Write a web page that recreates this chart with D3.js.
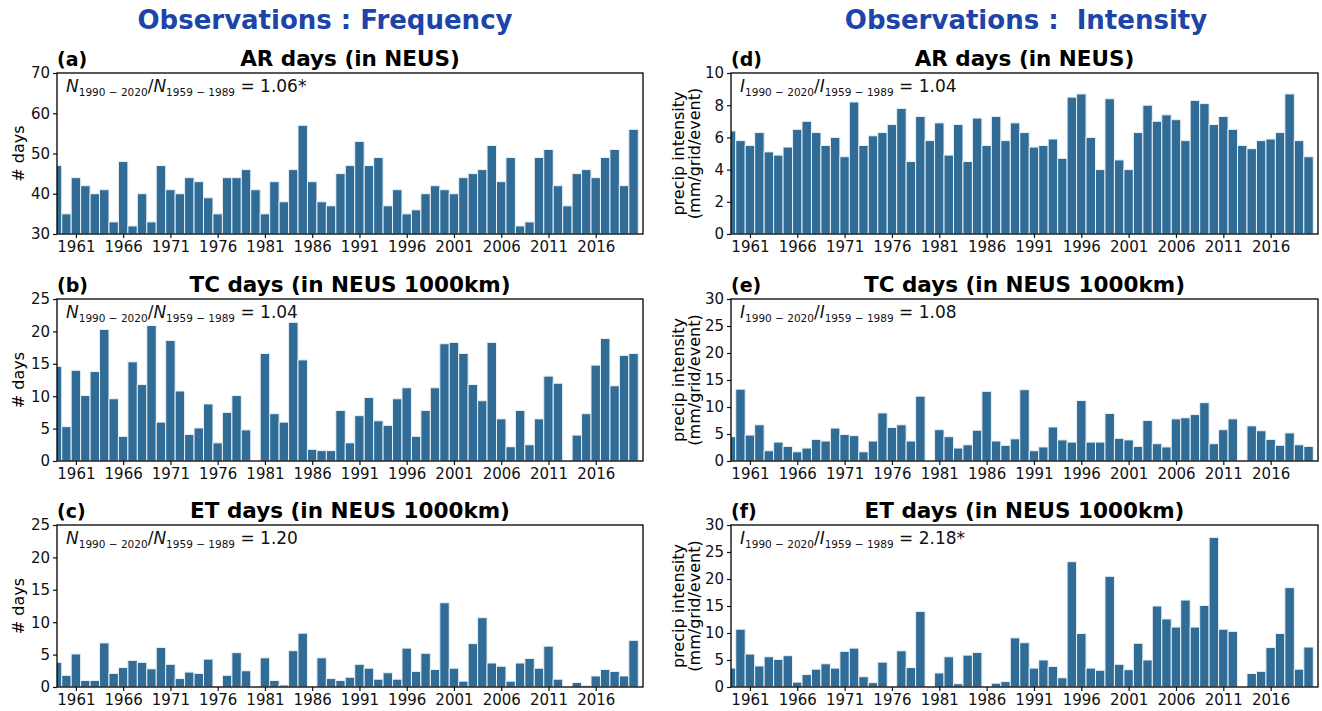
<!DOCTYPE html>
<html>
<head>
<meta charset="utf-8">
<style>
  body { margin: 0; background: #fff; font-family: "DejaVu Sans", sans-serif; }
  .tick text { font-family: "DejaVu Sans", sans-serif; font-size: 15px; fill: #111; }
  .tick line { stroke: #111; stroke-width: 1.2; }
</style>
<script src="https://cdn.jsdelivr.net/npm/d3@7"></script>
</head>
<body>
<script>
// years 1959..2020, one bar per year
var years = d3.range(1959, 2021);
var tickYears = [1961, 1966, 1971, 1976, 1981, 1986, 1991, 1996, 2001, 2006, 2011, 2016];

// (a) AR days, frequency
var arFreq = [47, 35, 44, 42, 40, 41, 33, 48, 32, 40, 33, 47, 41, 40, 44, 43, 39, 35, 44, 44,
  46, 41, 35, 43, 38, 46, 57, 43, 38, 37, 45, 47, 53, 47, 49, 37, 41, 35, 36, 40,
  42, 41, 40, 44, 45, 46, 52, 43, 49, 32, 33, 49, 51, 42, 37, 45, 46, 44, 49, 51, 42, 56];
// (b) TC days, frequency
var tcFreq = [14.6, 5.3, 14.0, 10.1, 13.8, 20.3, 9.6, 3.8, 15.3, 11.8, 20.9, 6.0, 18.6, 10.8, 4.1, 5.1,
  8.8, 2.8, 7.5, 10.1, 4.8, 0, 16.6, 7.3, 6.0, 21.4, 15.6, 1.8, 1.6, 1.6, 7.8, 2.8,
  7.0, 9.8, 6.2, 5.5, 9.6, 11.3, 3.8, 7.8, 11.3, 18.1, 18.3, 16.6, 11.8, 9.3, 18.3, 6.5,
  2.2, 7.8, 2.5, 6.5, 13.1, 12.0, 0, 4.0, 7.3, 14.8, 18.9, 11.6, 16.3, 16.6];
// (c) ET days, frequency
var etFreq = [3.8, 1.8, 5.1, 1.0, 1.0, 6.8, 2.1, 3.0, 4.1, 3.8, 2.8, 6.1, 3.5, 1.3, 2.3, 2.1,
  4.3, 0, 1.8, 5.3, 2.5, 0, 4.5, 1.0, 0.3, 5.6, 8.3, 0, 4.5, 1.3, 1.0, 1.5,
  3.5, 2.9, 1.2, 2.2, 1.2, 6.0, 2.4, 5.2, 2.7, 13.0, 2.9, 0.9, 6.7, 10.7, 3.7, 3.2,
  0.9, 3.7, 4.4, 2.9, 6.3, 1.2, 0, 0.7, 0.2, 1.7, 2.7, 2.4, 1.7, 7.2];
// (d) AR days, intensity
var arInt = [6.4, 5.8, 5.5, 6.3, 5.1, 4.9, 5.4, 6.5, 7.0, 6.3, 5.5, 6.0, 4.8, 8.2, 5.5, 6.1,
  6.3, 6.8, 7.8, 4.5, 7.3, 5.8, 6.9, 4.9, 6.8, 4.5, 7.2, 5.5, 7.3, 5.8, 6.9, 6.3,
  5.4, 5.5, 5.9, 4.7, 8.5, 8.7, 6.0, 4.0, 8.4, 4.6, 4.0, 6.3, 8.0, 7.0, 7.4, 7.1,
  5.8, 8.3, 8.1, 6.8, 7.3, 6.5, 5.5, 5.3, 5.8, 5.9, 6.3, 8.7, 5.8, 4.8];
// (e) TC days, intensity
var tcInt = [4.5, 13.3, 4.8, 6.7, 1.9, 3.5, 2.7, 1.7, 2.4, 4.0, 3.7, 6.1, 4.9, 4.7, 1.7, 3.7,
  8.9, 6.2, 6.7, 3.7, 12.0, 0, 5.8, 4.5, 2.4, 3.0, 5.7, 12.9, 3.7, 2.9, 4.1, 13.2,
  1.9, 2.6, 6.3, 3.9, 3.5, 11.2, 3.5, 3.5, 8.8, 4.2, 3.9, 2.7, 7.5, 3.2, 2.6, 7.8,
  8.0, 8.6, 10.8, 3.2, 5.8, 7.8, 0, 6.5, 5.6, 4.0, 2.9, 5.2, 3.0, 2.7];
// (f) ET days, intensity
var etInt = [3.5, 10.7, 6.1, 3.9, 5.6, 5.1, 5.8, 0.9, 2.3, 3.3, 4.3, 3.5, 6.6, 7.2, 1.9, 0.8,
  4.6, 0, 6.7, 3.6, 14.0, 0, 2.6, 5.6, 0.6, 5.9, 6.4, 0, 0.7, 1.0, 9.1, 8.2,
  3.5, 5.0, 3.8, 1.7, 23.2, 9.9, 3.5, 3.1, 20.5, 4.2, 3.2, 8.1, 5.0, 15.0, 12.6, 11.1,
  16.1, 11.1, 15.1, 27.7, 10.7, 10.3, 0, 2.5, 2.9, 7.3, 9.9, 18.4, 3.3, 7.4];

var headers = ["Observations : Frequency", "Observations :  Intensity"];
var headerX = [325, 1026];

var panels = [
  {lab: "(a)", title: "AR days (in NEUS)", vals: arFreq, dom: [30, 70], ticks: [30, 40, 50, 60, 70], sym: "N", ratio: "1.06*", col: 0, row: 0},
  {lab: "(b)", title: "TC days (in NEUS 1000km)", vals: tcFreq, dom: [0, 25], ticks: [0, 5, 10, 15, 20, 25], sym: "N", ratio: "1.04", col: 0, row: 1},
  {lab: "(c)", title: "ET days (in NEUS 1000km)", vals: etFreq, dom: [0, 25], ticks: [0, 5, 10, 15, 20, 25], sym: "N", ratio: "1.20", col: 0, row: 2},
  {lab: "(d)", title: "AR days (in NEUS)", vals: arInt, dom: [0, 10], ticks: [0, 2, 4, 6, 8, 10], sym: "I", ratio: "1.04", col: 1, row: 0},
  {lab: "(e)", title: "TC days (in NEUS 1000km)", vals: tcInt, dom: [0, 30], ticks: [0, 5, 10, 15, 20, 25, 30], sym: "I", ratio: "1.08", col: 1, row: 1},
  {lab: "(f)", title: "ET days (in NEUS 1000km)", vals: etInt, dom: [0, 30], ticks: [0, 5, 10, 15, 20, 25, 30], sym: "I", ratio: "2.18*", col: 1, row: 2}
];

var barColor = "#306c96";
var colX = [[57, 643], [731, 1318]];
var rowY = [[73, 234], [299, 461], [525, 687]];

var svg = d3.select("body").append("svg")
  .attr("width", 1322)
  .attr("height", 711);

// column headers
svg.selectAll(".hdr").data(headers).enter()
  .append("text")
  .attr("x", (d, i) => headerX[i])
  .attr("y", 29)
  .attr("text-anchor", "middle")
  .style("font-size", "26px")
  .style("font-weight", "bold")
  .style("white-space", "pre")
  .style("fill", "#1d44a8")
  .text(d => d);

panels.forEach(function(p, k) {
  var x0 = colX[p.col][0], x1 = colX[p.col][1];
  var y0 = rowY[p.row][0], y1 = rowY[p.row][1];

  var x = d3.scaleLinear().domain([1959, 2021]).range([x0, x1]);
  var y = d3.scaleLinear().domain(p.dom).range([y1, y0]);

  var clipId = "clip" + k;
  svg.append("clipPath").attr("id", clipId)
    .append("rect")
    .attr("x", x0).attr("y", y0)
    .attr("width", x1 - x0).attr("height", y1 - y0);

  var bars = years.map((yr, i) => ({year: yr, v: p.vals[i]}));

  svg.append("g").attr("clip-path", "url(#" + clipId + ")")
    .selectAll("rect").data(bars.filter(d => d.v > p.dom[0])).enter()
    .append("rect")
    .attr("x", d => x(d.year - 0.5))
    .attr("width", d => x(d.year + 0.5) - x(d.year - 0.5))
    .attr("y", d => y(d.v))
    .attr("height", d => y(p.dom[0]) - y(d.v))
    .attr("fill", barColor)
    .attr("stroke", "#e8f0f6")
    .attr("stroke-width", 1);

  // axes
  var yAxis = d3.axisLeft(y).tickValues(p.ticks).tickSize(4).tickPadding(3);
  svg.append("g").attr("transform", "translate(" + x0 + ",0)").call(yAxis)
    .call(g => g.select(".domain").remove());

  var xAxis = d3.axisBottom(x).tickValues(tickYears).tickFormat(d3.format("d")).tickSize(4).tickPadding(3);
  svg.append("g").attr("transform", "translate(0," + y1 + ")").call(xAxis)
    .call(g => g.select(".domain").remove());

  // frame
  svg.append("rect")
    .attr("x", x0).attr("y", y0)
    .attr("width", x1 - x0).attr("height", y1 - y0)
    .attr("fill", "none")
    .attr("stroke", "#000")
    .attr("stroke-width", 1.3);

  // titles
  svg.append("text")
    .attr("x", x0).attr("y", y0 - 7)
    .style("font-size", "19px").style("font-weight", "bold")
    .text(p.lab);
  svg.append("text")
    .attr("x", (x0 + x1) / 2).attr("y", y0 - 7)
    .attr("text-anchor", "middle")
    .style("font-size", "21.5px").style("font-weight", "bold")
    .text(p.title);

  // ratio annotation
  var t = svg.append("text")
    .attr("x", x0 + 9).attr("y", y0 + 19)
    .style("font-size", "17px").style("fill", "#111");
  t.append("tspan").style("font-style", "italic").text(p.sym);
  t.append("tspan").attr("dy", 4).style("font-size", "10.5px").text("1990 \u2212 2020");
  t.append("tspan").attr("dy", -4).text("/");
  t.append("tspan").style("font-style", "italic").text(p.sym);
  t.append("tspan").attr("dy", 4).style("font-size", "10.5px").text("1959 \u2212 1989");
  t.append("tspan").attr("dy", -4).text(" = " + p.ratio);

  // y label
  var cy = (y0 + y1) / 2;
  if (p.col === 0) {
    svg.append("text")
      .attr("transform", "translate(24," + cy + ") rotate(-90)")
      .attr("text-anchor", "middle")
      .style("font-size", "16px")
      .text("# days");
  } else {
    var yl = svg.append("text")
      .attr("transform", "translate(684," + cy + ") rotate(-90)")
      .attr("text-anchor", "middle")
      .style("font-size", "16px");
    yl.append("tspan").attr("x", 0).attr("dy", 0).text("precip intensity");
    yl.append("tspan").attr("x", 0).attr("dy", 16).text("(mm/grid/event)");
  }
});
</script>
</body>
</html>
